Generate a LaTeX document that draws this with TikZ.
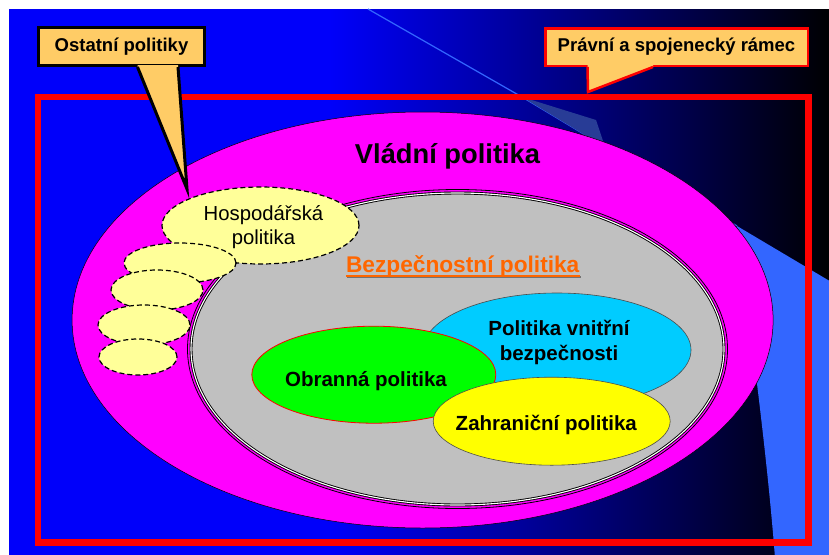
\documentclass[tikz,border=0pt]{standalone}
\usepackage{fontspec}
\setmainfont{Liberation Sans}
\usetikzlibrary{shapes.geometric}

\definecolor{bgblue}{RGB}{0,0,250}
\definecolor{arcblue}{RGB}{51,102,255}
\definecolor{wedgeblue}{RGB}{40,60,150}
\definecolor{vladacol}{RGB}{255,0,255}
\definecolor{bezpcol}{RGB}{192,192,192}
\definecolor{vnitrcol}{RGB}{0,204,255}
\definecolor{obranacol}{RGB}{0,255,0}
\definecolor{zahrcol}{RGB}{255,255,0}
\definecolor{hospcol}{RGB}{255,255,153}
\definecolor{calloutcol}{RGB}{255,204,102}
\definecolor{bezptext}{RGB}{255,102,0}

\tikzset{
  elip/.style={ellipse, inner sep=0pt, outer sep=0pt},
  dashelip/.style={elip, draw=black, fill=hospcol, line width=1.2pt, dash pattern=on 5pt off 3pt},
  lbl/.style={font=\fontsize{20.5}{25.3}\selectfont\bfseries, inner sep=0pt, align=center},
  calloutbox/.style={fill=calloutcol, inner sep=0pt, font=\fontsize{18.5}{22}\selectfont\bfseries}
}

\begin{document}
\begin{tikzpicture}[x=1pt, y=-1pt]
\useasboundingbox (0,0) rectangle (829,554);
% slide background
\fill[white] (0,0) rectangle (829,554);
\fill[bgblue] (9,9) rectangle (331,558);
\shade[left color=bgblue, right color=black] (330,9) rectangle (833,558);
% light arc of the template
\draw[arcblue, line width=1.2pt] (368,9) -- (522,97) -- (737,226);
\fill[wedgeblue] (522,97) -- (596,120) -- (606,150) -- (598,143) -- cycle;
\fill[arcblue] (737,226) -- (833,283) -- (833,558) -- (775,558) .. controls (766,440) and (746,300) .. (737,226);

% frame
\node[draw=red, line width=6.5pt, minimum width=770.7pt, minimum height=445.5pt, inner sep=0pt] (ramec) at (423.15,319.75) {};

% ellipses
\node[elip, draw=black, line width=0.5pt, fill=vladacol, minimum width=701pt, minimum height=416pt] (vlada) at (422.6,320) {};
\node[elip, draw=black, line width=0.8pt, minimum width=540pt, minimum height=319pt] (bezpring) at (457.5,349) {};
\node[elip, draw=black, line width=0.9pt, double=white, double distance=1.1pt, fill=bezpcol, minimum width=533pt, minimum height=312pt] (bezp) at (457.5,349) {};
\node[elip, draw=black!70, line width=0.6pt, fill=vnitrcol, minimum width=268pt, minimum height=114pt] (vnitr) at (557,350) {};
\node[elip, draw=red, line width=0.8pt, fill=obranacol, minimum width=244pt, minimum height=97pt] (obrana) at (373.8,374.7) {};
\node[elip, draw=black!70, line width=0.6pt, fill=zahrcol, minimum width=237pt, minimum height=88pt] (zahr) at (551.7,421.2) {};

\node[dashelip, minimum width=197pt, minimum height=77pt] (hosp) at (260.5,225.5) {};
\foreach \cx/\cy/\w/\h [count=\i] in {180/263/112/40, 157/290/92/40, 144/325/92/40, 138/357/78/36}
  \node[dashelip, minimum width=\w pt, minimum height=\h pt] (dalsi\i) at (\cx,\cy) {};

% texts
\node[lbl, font=\fontsize{27.3}{30}\selectfont\bfseries, anchor=base] (vladaT) at (447.5,163.3) {Vládní politika};
\node[lbl, font=\fontsize{22.7}{26}\selectfont\bfseries, text=bezptext, anchor=base] (bezpT) at (462.7,272.7) {Bezpečnostní politika};
\draw[black!55, line width=2pt] ([shift={(1.5pt,-4.3pt)}]bezpT.base west) -- ([shift={(1.5pt,-4.3pt)}]bezpT.base east);
\draw[bezptext, line width=2pt] ([yshift=-2.8pt]bezpT.base west) -- ([yshift=-2.8pt]bezpT.base east);
\node[lbl, anchor=base] (obranaT) at (366,386.7) {Obranná politika};
\node[lbl] (vnitrT) at (559,342.7) {Politika vnitřní\\bezpečnosti};
\node[lbl, anchor=base] (zahrT) at (546.3,430.3) {Zahraniční politika};
\node[font=\fontsize{20.3}{24}\selectfont, align=center, inner sep=0pt] (hospT) at (263.5,227.5) {Hospodářská\\politika};

% callouts
\node[calloutbox, draw=black, line width=3pt, minimum width=166pt, minimum height=38pt] (ostatni) at (121.5,46.5) {Ostatní politiky};
\coordinate (tipO) at (187,189);
\fill[calloutcol] ([shift={(16pt,2pt)}]ostatni.south) -- ([xshift=16pt]ostatni.south) -- (tipO) -- ([xshift=56.5pt]ostatni.south) -- ([shift={(56.5pt,2pt)}]ostatni.south) -- cycle;
\draw[line width=3pt] ([xshift=16pt]ostatni.south) -- (tipO) -- ([xshift=56.5pt]ostatni.south);

\node[calloutbox, draw=red, line width=2.5pt, minimum width=262.5pt, minimum height=37.5pt] (pravni) at (676.5,47) {Právní a spojenecký rámec};
\coordinate (tipP) at (588,92);
\fill[calloutcol] ([shift={(-89pt,2pt)}]pravni.south) -- ([xshift=-89pt]pravni.south) -- (tipP) -- ([xshift=-23.5pt]pravni.south) -- ([shift={(-23.5pt,2pt)}]pravni.south) -- cycle;
\draw[red, line width=2.5pt] ([xshift=-89pt]pravni.south) -- (tipP) -- ([xshift=-23.5pt]pravni.south);
\end{tikzpicture}
\end{document}
